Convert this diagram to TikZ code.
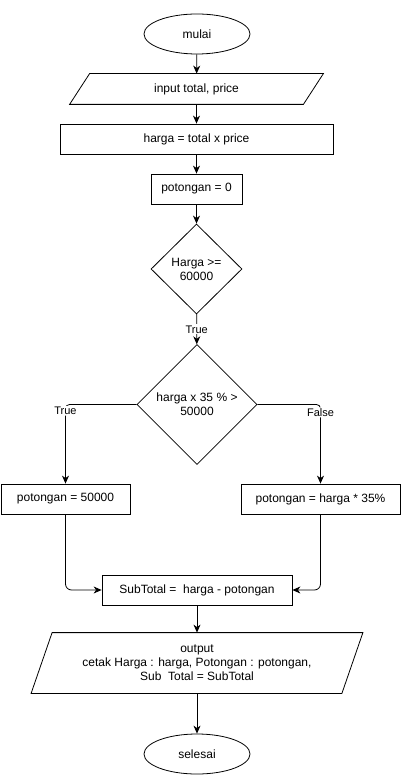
\documentclass[tikz,border=0pt]{standalone}
\usepackage{fontspec}
\setmainfont{Liberation Sans}
\usetikzlibrary{shapes.geometric}
\usetikzlibrary{arrows.meta}

\begin{document}
\begin{tikzpicture}[x=1pt, y=-1pt, line width=0.8pt,
		font=\fontsize{12}{14}\selectfont,
		>={Stealth[length=8pt,width=7pt,inset=2.5pt]},
		terminal/.style={ellipse, draw, minimum width=106pt, minimum height=40pt},
		process/.style={rectangle, draw, minimum height=30pt, inner sep=0pt},
		io/.style={rectangle, align=center, inner sep=0pt},
		decision/.style={diamond, draw, aspect=1, inner sep=0pt, align=center},
		lbl/.style={fill=white, inner sep=1pt, font=\fontsize{11}{13}\selectfont}]
				\useasboundingbox (0,0) rectangle (401,775);
				\node[terminal] (0) at (197,34) {mulai};
				\node[io, minimum width=233pt, minimum height=30pt] (1) at (196.5,89) {input total, price};
				\node[process, minimum width=273pt] (2) at (196.5,139) {harga = total x price};
				\node[process, minimum width=91pt] (3) at (196.5,189) {potongan = 0};
				\node[decision, minimum width=91pt, minimum height=90pt] (4) at (196.5,269) {Harga >=\\60000};
				\node[decision, minimum width=120pt, minimum height=120pt] (5) at (197,404.5) {harga x 35 \% >\\50000};
				\node[process, minimum width=129pt] (6) at (65.5,499) {potongan = 50000};
				\node[process, minimum width=159pt] (7) at (320.5,499) {potongan = harga * 35\%};
				\node[process, minimum width=190pt] (8) at (197,590) {SubTotal =~~harga - potongan};
				\node[io, minimum width=310pt, minimum height=60pt] (9) at (197,663) {output\\cetak Harga : harga, Potongan : potongan,\\Sub~~Total = SubTotal};
				\node[terminal] (10) at (197,754) {selesai};
				
				% parallelograms for input and output
				\draw ([xshift=10pt]1.north west) -- ([xshift=10pt]1.north east) -- ([xshift=-10pt]1.south east) -- ([xshift=-10pt]1.south west) -- cycle;
				\draw ([xshift=10.5pt]9.north west) -- ([xshift=10.5pt]9.north east) -- ([xshift=-10.5pt]9.south east) -- ([xshift=-10.5pt]9.south west) -- cycle;
				
				\draw[->]  (0) -- (1);
				\draw[->]  (1) -- (2);
				\draw[->]  (2) -- (3);
				\draw[->]  (3) -- (4);
				\draw[->]  (4) -- (5) node[midway, lbl] {True};
				\draw[->, rounded corners=4pt]  (5.west) -| node[pos=0.54, lbl] {True} (6);
				\draw[->, rounded corners=4pt]  (5.east) -| node[pos=0.55, lbl] {False} (7);
				\draw[->, rounded corners=6pt]  (6) |- (8);
				\draw[->, rounded corners=6pt]  (7) |- (8);
				\draw[->]  (8) -- (9);
				\draw[->]  (9) -- (10);
			\end{tikzpicture}
\end{document}
